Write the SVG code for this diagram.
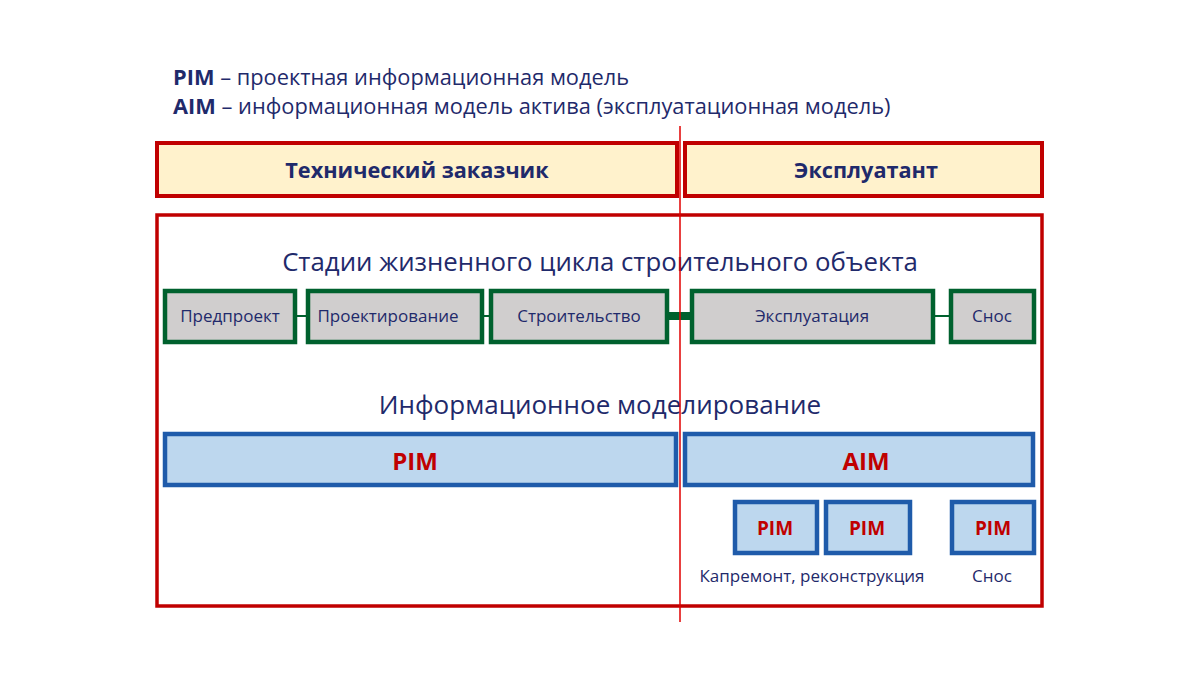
<svg xmlns="http://www.w3.org/2000/svg" width="1200" height="675" viewBox="0 0 1200 675">
<style>
.t{font-family:"Open Sans","Liberation Sans",sans-serif;fill:#1F2A6B}
.hdr{fill:#FFF2CC;stroke:#C00000;stroke-width:4}
.frame{fill:none;stroke:#C00000;stroke-width:3.5}
.stage{fill:#D0CECE;stroke:#00612E;stroke-width:4.5}
.model{fill:#BDD7EE;stroke:#1F5BAA;stroke-width:4.5}
.mt{font-family:"Open Sans","Liberation Sans",sans-serif;fill:#C00000;font-weight:bold;text-anchor:middle}
.st{font-family:"Open Sans","Liberation Sans",sans-serif;fill:#1F2A6B;font-size:17px;text-anchor:middle}
</style>
<rect width="1200" height="675" fill="#fff"/>
<g id="legend">
<text class="t" x="173" y="85" font-size="21.8"><tspan font-weight="bold">PIM</tspan> – проектная информационная модель</text>
<text class="t" x="173" y="114" font-size="21.8"><tspan font-weight="bold">AIM</tspan> – информационная модель актива (эксплуатационная модель)</text>
</g>
<g id="customer">
<rect class="hdr" x="157" y="143" width="520" height="53"/>
<text class="t" x="417" y="178" font-size="21.7" font-weight="bold" text-anchor="middle">Технический заказчик</text>
</g>
<g id="operator">
<rect class="hdr" x="685" y="143" width="357" height="53"/>
<text class="t" x="866" y="178" font-size="21.7" font-weight="bold" text-anchor="middle">Эксплуатант</text>
</g>
<g id="frame">
<rect class="frame" x="157" y="215" width="885" height="391"/>
<text class="t" x="600" y="271" font-size="25.8" text-anchor="middle">Стадии жизненного цикла строительного объекта</text>
<text class="t" x="600" y="414" font-size="26" text-anchor="middle">Информационное моделирование</text>
</g>
<g id="connectors">
<line x1="295" y1="316" x2="308" y2="316" stroke="#00612E" stroke-width="2"/>
<line x1="482" y1="316" x2="491" y2="316" stroke="#00612E" stroke-width="2"/>
<line x1="470" y1="314" x2="479" y2="314" stroke="#4472C4" stroke-width="2"/>
<line x1="667" y1="316" x2="692" y2="316" stroke="#00612E" stroke-width="8"/>
<line x1="933" y1="316" x2="951" y2="316" stroke="#00612E" stroke-width="2"/>
</g>
<g id="s1"><rect class="stage" x="165" y="291" width="130" height="51"/><text class="st" x="230" y="322">Предпроект</text></g>
<g id="s2"><rect class="stage" x="308" y="291" width="174" height="51"/><text class="st" x="388" y="322">Проектирование</text></g>
<g id="s3"><rect class="stage" x="491" y="291" width="176" height="51"/><text class="st" x="579" y="322">Строительство</text></g>
<g id="s4"><rect class="stage" x="692" y="291" width="241" height="51"/><text class="st" x="812" y="322">Эксплуатация</text></g>
<g id="s5"><rect class="stage" x="951" y="291" width="83" height="51"/><text class="st" x="992" y="322">Снос</text></g>
<g id="pim"><rect class="model" x="165" y="434" width="511" height="51"/><text class="mt" x="415" y="470" font-size="24">PIM</text></g>
<g id="aim"><rect class="model" x="685" y="434" width="348" height="51"/><text class="mt" x="866" y="470" font-size="24">AIM</text></g>
<g id="pim1"><rect class="model" x="735" y="502" width="82" height="51"/><text class="mt" x="775" y="535" font-size="19">PIM</text></g>
<g id="pim2"><rect class="model" x="826" y="502" width="84" height="51"/><text class="mt" x="867" y="535" font-size="19">PIM</text></g>
<g id="pim3"><rect class="model" x="952" y="502" width="82" height="51"/><text class="mt" x="993" y="535" font-size="19">PIM</text></g>
<g id="labels">
<text class="st" x="812" y="582" font-size="18.3">Капремонт, реконструкция</text>
<text class="st" x="992" y="582" font-size="18.3">Снос</text>
</g>
<line id="divider" x1="680" y1="126" x2="680" y2="622" stroke="#E00000" stroke-width="1.5"/>
</svg>
